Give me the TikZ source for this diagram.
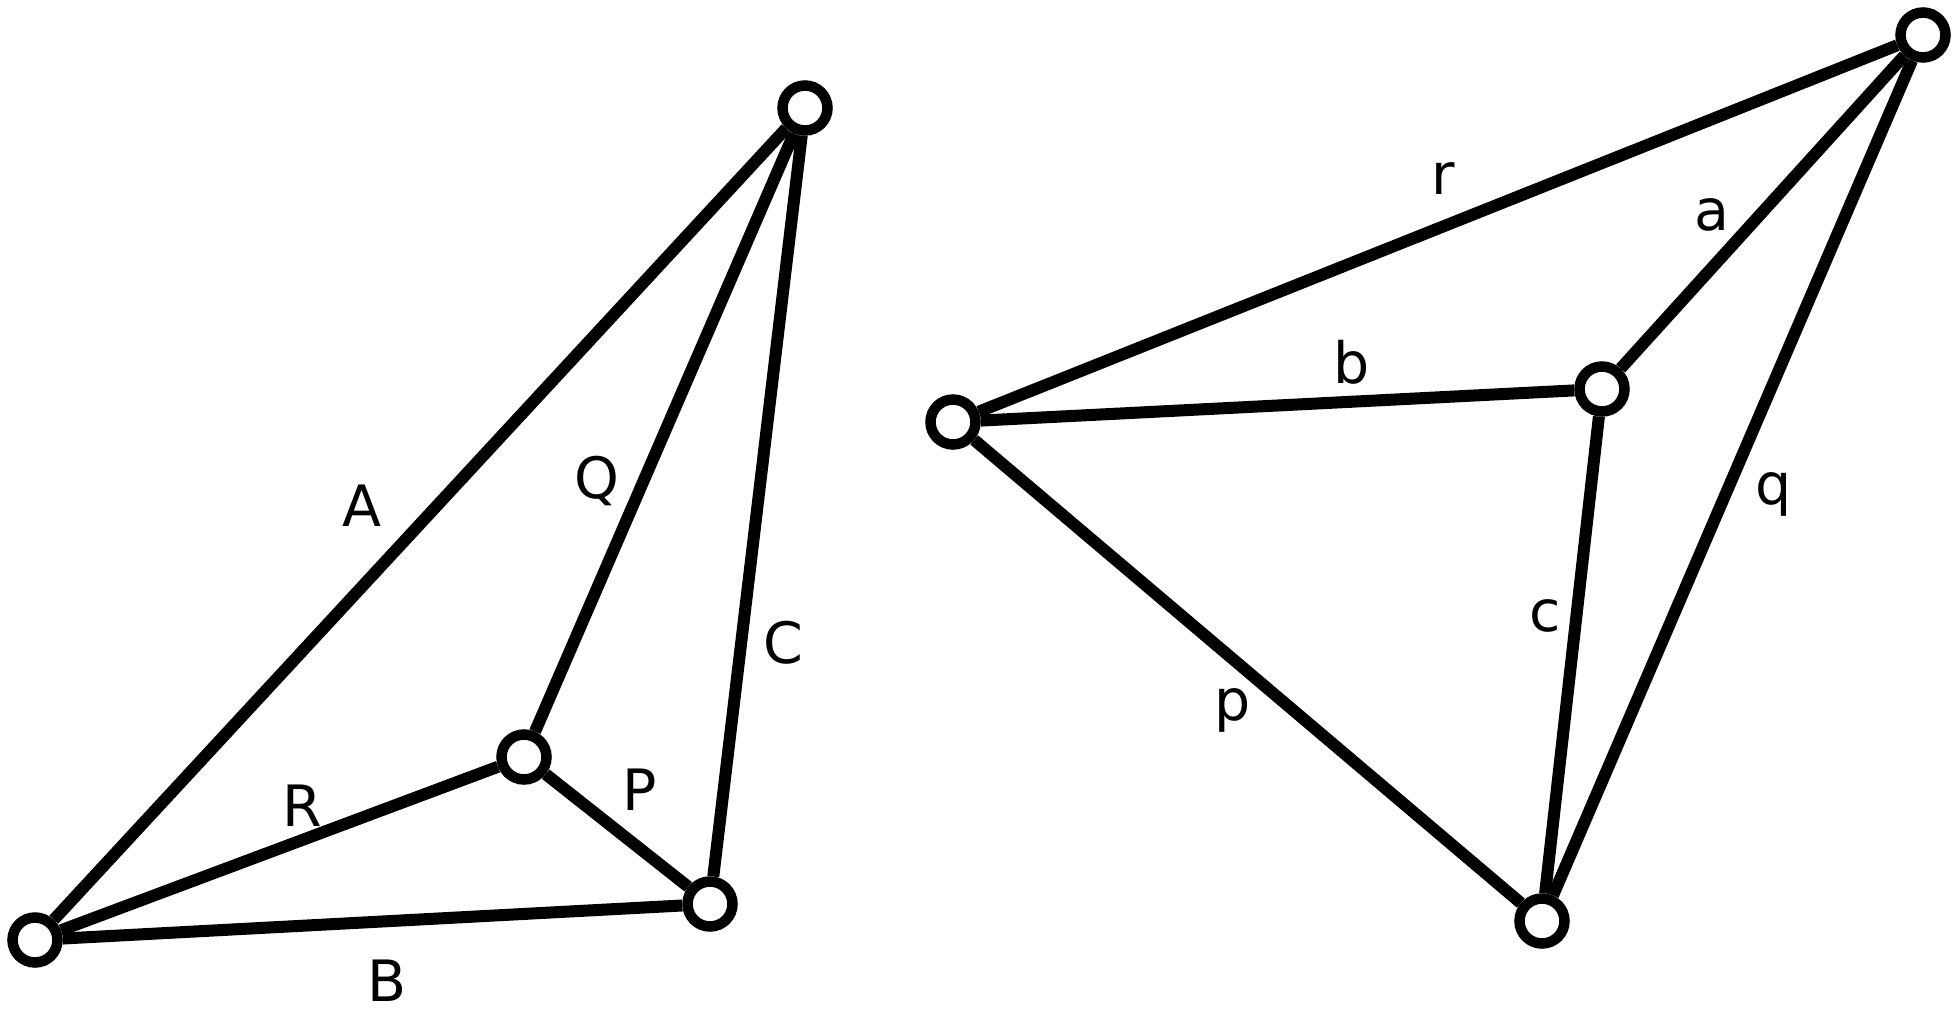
\documentclass[tikz,border=0pt]{standalone}
\usepackage{fontspec}
\setmainfont{DejaVu Sans}
\begin{document}
\begin{tikzpicture}[x=1pt,y=-1pt,
  vtx/.style={circle,draw=black,fill=white,line width=10.5pt,minimum size=45pt,inner sep=0pt},
  conn/.style={line width=12pt,draw=black},
  lbl/.style={font=\fontsize{57}{60}\selectfont,inner sep=0pt}]
\useasboundingbox (0,0) rectangle (1959,1017);
% left figure
\node[vtx] (T) at (805,108) {};
\node[vtx] (L) at (35,940) {};
\node[vtx] (M) at (524,757) {};
\node[vtx] (BR) at (710,904) {};
% right figure
\node[vtx] (RL) at (953,422) {};
\node[vtx] (RT) at (1923,35) {};
\node[vtx] (RI) at (1602,389) {};
\node[vtx] (RB) at (1542,921) {};
\draw[conn] (L) -- (T);
\draw[conn] (M) -- (T);
\draw[conn] (BR) -- (T);
\draw[conn] (L) -- (M);
\draw[conn] (M) -- (BR);
\draw[conn] (L) -- (BR);
\draw[conn] (RL) -- (RT);
\draw[conn] (RI) -- (RT);
\draw[conn] (RB) -- (RT);
\draw[conn] (RL) -- (RI);
\draw[conn] (RI) -- (RB);
\draw[conn] (RL) -- (RB);
\node[lbl] (lA) at (362,506) {A};
\node[lbl] (lQ) at (597,481) {Q};
\node[lbl] (lC) at (783,643) {C};
\node[lbl] (lR) at (302,806) {R};
\node[lbl] (lP) at (640,790) {P};
\node[lbl] (lB) at (387,981) {B};
\node[lbl] (lr) at (1443,179) {r};
\node[lbl] (la) at (1712,215) {a};
\node[lbl] (lb) at (1352,362) {b};
\node[lbl] (lq) at (1774,494) {q};
\node[lbl] (lc) at (1545,616) {c};
\node[lbl] (lp) at (1233,710) {p};
\end{tikzpicture}
\end{document}
